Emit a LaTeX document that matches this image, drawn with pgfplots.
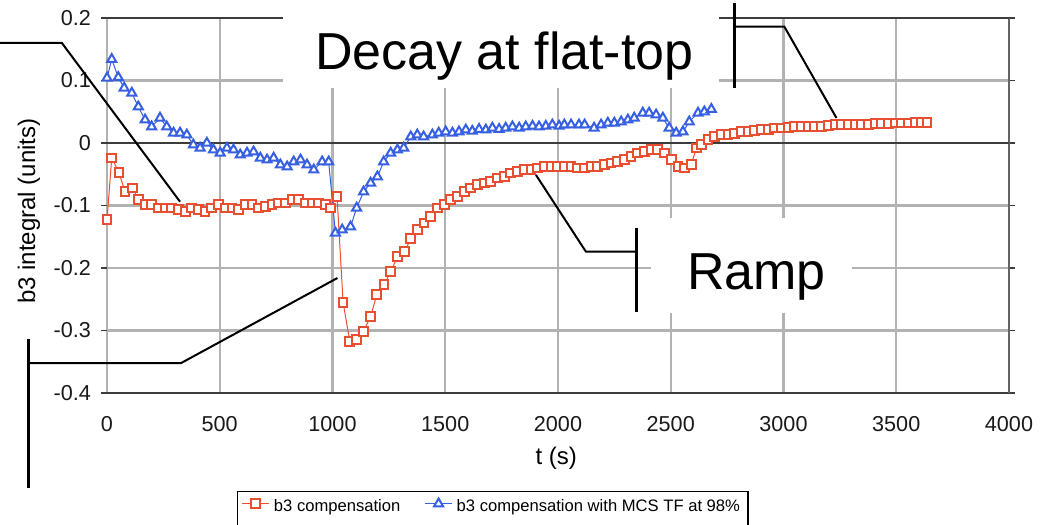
\documentclass[border=0pt]{standalone}
\usepackage{fontspec}
\setmainfont{Liberation Sans}
\usepackage{pgfplots}
\pgfplotsset{compat=1.18}
\definecolor{redser}{RGB}{232,78,48}
\definecolor{blueser}{RGB}{55,95,225}
\definecolor{gridgray}{RGB}{178,178,178}
\definecolor{axisdark}{RGB}{60,60,60}

\begin{document}
\begin{tikzpicture}
\useasboundingbox (0,0) rectangle (525pt,262.5pt);
\begin{axis}[
  at={(53.5pt,66pt)}, anchor=south west,
  width=451pt, height=187.5pt, scale only axis,
  xmin=0, xmax=4000, ymin=-0.4, ymax=0.2,
  xtick={0,500,1000,1500,2000,2500,3000,3500,4000},
  xticklabels={0,500,1000,1500,2000,2500,3000,3500,4000},
  ytick={-0.4,-0.3,-0.2,-0.1,0,0.1,0.2},
  yticklabels={-0.4,-0.3,-0.2,-0.1,0,0.1,0.2},
  grid=major, major grid style={gridgray, line width=1.2pt},
  axis line style={draw=none},
  xtick style={draw=none},
  ytick style={axisdark, line width=0.8pt},
  tick align=outside, major tick length=3pt,
  tick label style={font=\fontsize{10.8}{12}\selectfont, text=black!90},
  yticklabel style={xshift=-1.5pt},
  xticklabel style={yshift=-5pt},
  xlabel={t (s)}, ylabel={b3 integral (units)},
  label style={font=\fontsize{12}{14}\selectfont},
  xlabel style={at={(axis description cs:0.498,-0.173)}, anchor=center},
  ylabel style={at={(axis description cs:-0.0865,0.485)}, anchor=center},
  clip=false,
  legend columns=2,
  legend style={at={(axis description cs:0.144,-0.261)}, anchor=north west,
    draw=black, line width=0.8pt, font=\fontsize{8.3}{9.5}\selectfont,
    inner xsep=2pt, nodes={text depth=9pt},
    /tikz/every even column/.append style={column sep=10pt}},
  legend image code/.code={\draw[yshift=5.5pt, mark repeat=2,mark phase=2] plot coordinates {(0cm,0cm) (0.24cm,0cm) (0.48cm,0cm)};},
]
% borders and zero line
\draw[axisdark, line width=1pt] (axis cs:0,-0.4) -- (axis cs:4000,-0.4);
\draw[axisdark!80, line width=1.2pt] (axis cs:4000,-0.4) -- (axis cs:4000,0.2);
\draw[axisdark, line width=1.2pt] (axis cs:0,0.2) -- (axis cs:4000,0.2);
\draw[axisdark, line width=1.4pt] (axis cs:0,0) -- (axis cs:4000,0);
\pgfplotsinvokeforeach{0,100,...,4000}{
  \draw[axisdark, line width=0.7pt] (axis cs:#1,0) ++(0,-2.5pt) -- ++(0,5pt);
}

\addplot[redser, line width=0.5pt, mark=square*, mark size=2.2pt, mark options={fill=white, line width=1pt}] coordinates {
(0,-0.123) (21,-0.024) (53,-0.047) (80,-0.078) (114,-0.072) (139,-0.091) (169,-0.099) (198,-0.099) (228,-0.104) (258,-0.104)
(287,-0.104) (317,-0.107) (347,-0.110) (376,-0.104) (406,-0.107) (435,-0.110) (465,-0.104) (495,-0.099) (524,-0.104) (554,-0.104)
(584,-0.107) (613,-0.099) (643,-0.099) (672,-0.104) (702,-0.101) (732,-0.099) (761,-0.096) (791,-0.096) (821,-0.091) (850,-0.091)
(880,-0.096) (910,-0.096) (939,-0.096) (969,-0.099) (991,-0.104) (1020,-0.085) (1047,-0.255) (1077,-0.318) (1107,-0.315) (1136,-0.302)
(1169,-0.278) (1196,-0.243) (1228,-0.227) (1258,-0.206) (1288,-0.182) (1320,-0.174) (1347,-0.153) (1376,-0.139) (1406,-0.128) (1436,-0.118)
(1465,-0.104) (1495,-0.099) (1524,-0.091) (1554,-0.086) (1584,-0.078) (1613,-0.072) (1643,-0.067) (1673,-0.064) (1702,-0.062) (1732,-0.056)
(1761,-0.054) (1791,-0.048) (1821,-0.046) (1850,-0.043) (1880,-0.043) (1910,-0.040) (1939,-0.038) (1969,-0.038) (1999,-0.038) (2028,-0.038)
(2058,-0.038) (2087,-0.040) (2117,-0.040) (2146,-0.038) (2176,-0.038) (2206,-0.035) (2235,-0.032) (2265,-0.030) (2295,-0.027) (2324,-0.022)
(2354,-0.016) (2384,-0.014) (2413,-0.011) (2443,-0.011) (2472,-0.016) (2502,-0.027) (2532,-0.038) (2561,-0.040) (2591,-0.035) (2613,-0.008)
(2636,-0.003) (2665,0.005) (2695,0.010) (2724,0.013) (2754,0.014) (2784,0.015) (2813,0.018) (2843,0.019) (2873,0.020) (2902,0.021)
(2932,0.022) (2961,0.024) (2991,0.024) (3021,0.025) (3050,0.026) (3080,0.026) (3110,0.027) (3139,0.027) (3169,0.027) (3198,0.028)
(3228,0.029) (3258,0.029) (3287,0.029) (3317,0.030) (3347,0.030) (3376,0.030) (3406,0.031) (3436,0.031) (3465,0.031) (3495,0.032)
(3524,0.032) (3554,0.032) (3584,0.033) (3613,0.033) (3636,0.033)
};
\addlegendentry{b3 compensation}

\addplot[blueser, line width=0.5pt, mark=triangle*, mark size=2.6pt, mark options={fill=white, line width=1pt}] coordinates {
(0,0.104) (21,0.134) (50,0.105) (76,0.088) (110,0.080) (139,0.058) (169,0.037) (198,0.026) (235,0.040) (265,0.026)
(295,0.016) (324,0.016) (354,0.013) (383,-0.003) (413,-0.008) (443,0.000) (472,-0.011) (502,-0.016) (532,-0.008) (561,-0.011)
(591,-0.019) (621,-0.016) (650,-0.014) (680,-0.024) (710,-0.027) (739,-0.024) (769,-0.035) (799,-0.038) (828,-0.030) (858,-0.027)
(887,-0.035) (917,-0.043) (954,-0.030) (983,-0.030) (1013,-0.144) (1043,-0.139) (1080,-0.134) (1107,-0.104) (1138,-0.078) (1169,-0.064)
(1199,-0.054) (1227,-0.030) (1258,-0.016) (1288,-0.011) (1316,-0.008) (1347,0.010) (1376,0.013) (1404,0.010) (1443,0.013) (1471,0.016)
(1502,0.018) (1532,0.016) (1561,0.018) (1591,0.021) (1620,0.019) (1650,0.022) (1680,0.021) (1709,0.024) (1739,0.022) (1768,0.024)
(1798,0.026) (1828,0.024) (1857,0.026) (1887,0.027) (1916,0.026) (1946,0.027) (1975,0.029) (2005,0.027) (2028,0.029) (2058,0.029)
(2093,0.029) (2118,0.029) (2160,0.024) (2191,0.029) (2221,0.032) (2250,0.032) (2280,0.034) (2310,0.037) (2338,0.040) (2376,0.048)
(2404,0.048) (2435,0.045) (2465,0.040) (2493,0.024) (2524,0.016) (2554,0.018) (2582,0.034) (2621,0.048) (2649,0.050) (2680,0.054)
};
\addlegendentry{b3 compensation with MCS TF at 98\%}

% annotation boxes
\fill[white] (axis cs:782,0.245) rectangle (axis cs:2715,0.088);
\fill[white] (axis cs:2413,-0.120) rectangle (axis cs:3302,-0.272);
\node[anchor=base, font=\fontsize{26}{30}\selectfont, inner sep=0pt] at (axis cs:1762,0.1168) {Decay at flat-top};
\node[anchor=base, font=\fontsize{26}{30}\selectfont, inner sep=0pt] at (axis cs:2880,-0.235) {Ramp};
% callouts
\draw[black, line width=1pt] (axis cs:-500,0.16) -- (axis cs:-200,0.16) -- (axis cs:324,-0.094);
\draw[black, line width=1.3pt] (axis cs:-347,-0.314) -- (axis cs:-347,-0.552);
\draw[black, line width=1pt] (axis cs:-347,-0.352) -- (axis cs:329,-0.352) -- (axis cs:1022,-0.216);
\draw[black, line width=1pt] (axis cs:1902,-0.051) -- (axis cs:2124,-0.174) -- (axis cs:2347,-0.174);
\draw[black, line width=1.3pt] (axis cs:2347,-0.1355) -- (axis cs:2347,-0.270);
\draw[black, line width=1.3pt] (axis cs:2782,0.224) -- (axis cs:2782,0.088);
\draw[black, line width=1pt] (axis cs:2782,0.186) -- (axis cs:3004,0.186) -- (axis cs:3235,0.040);
\end{axis}
\end{tikzpicture}
\end{document}
